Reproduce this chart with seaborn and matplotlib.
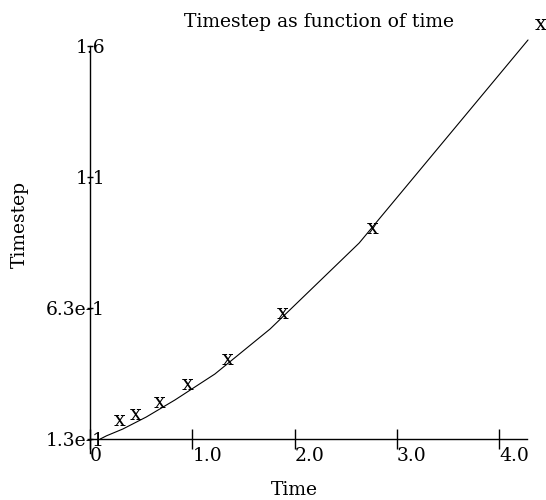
import matplotlib
matplotlib.use("Agg")
import matplotlib.pyplot as plt
import pandas as pd
import seaborn as sns

# values
time = [0.10, 0.16, 0.32, 0.55, 0.83, 1.22, 1.76, 2.63, 4.28]
timestep = [0.130, 0.142, 0.168, 0.214, 0.279, 0.378, 0.550, 0.878, 1.653]
x_ticks = [0, 1, 2, 3, 4]
x_labels = ["0", "1.0", "2.0", "3.0", "4.0"]
y_ticks = [0.13, 0.63, 1.13, 1.63]
y_labels = ["1.3e-1", "6.3e-1", "1.1", "1.6"]

sns.set_style("white")
plt.rcParams["font.family"] = ["DejaVu Serif"]
plt.rcParams["font.size"] = 13.5
plt.rcParams["text.color"] = "black"
plt.rcParams["xtick.color"] = "black"
plt.rcParams["ytick.color"] = "black"

df = pd.DataFrame({"Time": time, "Timestep": timestep})

fig = plt.figure(figsize=(5.46, 5.0), dpi=100)
ax = fig.add_axes([90 / 546, 1 - 453 / 500, 437 / 546, 407 / 500])

sns.lineplot(data=df, x="Time", y="Timestep", sort=False, estimator=None,
             color="black", linewidth=0.8, ax=ax, clip_on=False)

# "x" glyph markers, drawn a little up and right of each point
for t, dt in zip(df["Time"][1:], df["Timestep"][1:]):
    ax.annotate("x", (t, dt), xytext=(13, 15), textcoords="offset pixels",
                ha="center", va="center", fontsize=15, annotation_clip=False)

ax.set_xlim(0, 4.27)
ax.set_ylim(0.0766, 1.63)

for side in ["top", "right"]:
    ax.spines[side].set_visible(False)
ax.spines["bottom"].set_position(("data", 0.13))
ax.spines["left"].set_color("black")
ax.spines["bottom"].set_color("black")
ax.spines["left"].set_linewidth(1.0)
ax.spines["bottom"].set_linewidth(1.0)

ax.set_xticks(x_ticks)
ax.set_xticklabels(x_labels, ha="left")
ax.set_yticks(y_ticks)
ax.set_yticklabels(y_labels)
ax.tick_params(axis="x", bottom=True, direction="inout", length=14, width=1,
               pad=-1.5, labelsize=13.5, labelcolor="black")
ax.tick_params(axis="y", left=True, direction="inout", length=4.5, width=1,
               pad=-13, labelsize=13.5, labelcolor="black")
ax.set_xlabel("")
ax.set_ylabel("")

fig.text(319 / 546, 1 - 22 / 500, "Timestep as function of time",
         ha="center", va="center", fontsize=13.5)
fig.text(294 / 546, 1 - 490 / 500, "Time", ha="center", va="center", fontsize=13.5)
fig.text(20 / 546, 1 - 224 / 500, "Timestep", ha="center", va="center",
         rotation=90, fontsize=13.5)

fig.savefig("out.png", dpi=100)
